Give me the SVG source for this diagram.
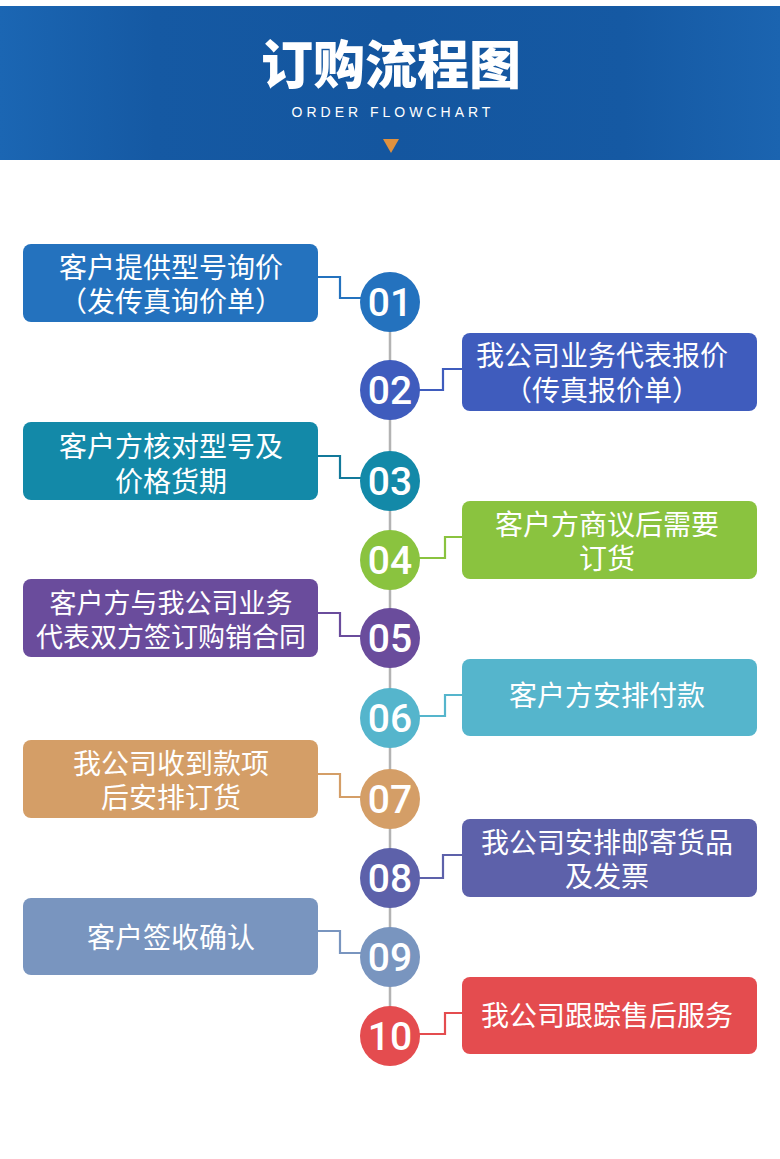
<svg xmlns="http://www.w3.org/2000/svg" width="780" height="1159" viewBox="0 0 780 1159">
<defs>
<linearGradient id="hdr" x1="0" y1="0" x2="1" y2="0">
<stop offset="0" stop-color="#1b66b3"/>
<stop offset="0.2" stop-color="#1559a3"/>
<stop offset="0.5" stop-color="#14569f"/>
<stop offset="0.8" stop-color="#1559a3"/>
<stop offset="1" stop-color="#1b64b0"/>
</linearGradient>
<style>
.box{stroke:none}
.t{font-family:"Liberation Sans","Noto Sans CJK SC",sans-serif;font-size:28px;fill:#ffffff;text-anchor:middle}
.n{font-family:Roboto,"Liberation Sans",sans-serif;font-size:39px;font-weight:500;fill:#ffffff;text-anchor:middle}
.c{fill:none;stroke-width:2.2}
</style>
</defs>
<rect width="780" height="1159" fill="#ffffff"/>
<g id="header">
<rect x="0" y="6" width="780" height="154" fill="url(#hdr)"/>
<text x="391" y="84" font-family="'Noto Sans CJK SC',sans-serif" font-size="52" font-weight="900" fill="#ffffff" text-anchor="middle">订购流程图</text>
<text x="393" y="117" font-family="'Liberation Sans',Arial,sans-serif" font-size="14" letter-spacing="4" fill="#ffffff" text-anchor="middle">ORDER FLOWCHART</text>
<polygon points="383,139 399,139 391,153" fill="#e0913e"/>
</g>
<g id="connectors">
<line x1="390" y1="302" x2="390" y2="1036" stroke="#b3b3b3" stroke-width="2.5"/>
<polyline class="c" stroke="#2472be" points="318,277 340,277 340,298 362,298"/>
<polyline class="c" stroke="#3f5cbd" points="418,390 443,390 443,369 462,369"/>
<polyline class="c" stroke="#13799a" points="318,456 340,456 340,478 362,478"/>
<polyline class="c" stroke="#8ac33f" points="418,558 445,558 445,537 462,537"/>
<polyline class="c" stroke="#6a4c9c" points="318,613 340,613 340,636 362,636"/>
<polyline class="c" stroke="#55b5cc" points="418,716 445,716 445,695 462,695"/>
<polyline class="c" stroke="#d49e67" points="318,774 340,774 340,797 362,797"/>
<polyline class="c" stroke="#5d61aa" points="418,878 443,878 443,855 462,855"/>
<polyline class="c" stroke="#7995bf" points="318,931 340,931 340,953 362,953"/>
<polyline class="c" stroke="#e44c4f" points="418,1034 445,1034 445,1013 462,1013"/>
</g>
<g id="node1">
<rect class="box" x="23" y="244" width="295" height="78" rx="8" fill="#2472be"/>
<text class="t" x="171" y="278">客户提供型号询价</text>
<text class="t" x="171" y="312">（发传真询价单）</text>
<circle cx="390" cy="302" r="30" fill="#2472be"/>
<text class="n" x="390" y="316">01</text>
</g>
<g id="node2">
<rect class="box" x="462" y="333" width="295" height="78" rx="8" fill="#3f5cbd"/>
<text class="t" x="602" y="366">我公司业务代表报价</text>
<text class="t" x="602" y="401">（传真报价单）</text>
<circle cx="390" cy="390" r="30" fill="#3f5cbd"/>
<text class="n" x="390" y="404">02</text>
</g>
<g id="node3">
<rect class="box" x="23" y="422" width="295" height="78" rx="8" fill="#1389a8"/>
<text class="t" x="171" y="457">客户方核对型号及</text>
<text class="t" x="171" y="492">价格货期</text>
<circle cx="390" cy="481" r="30" fill="#1389a8"/>
<text class="n" x="390" y="495">03</text>
</g>
<g id="node4">
<rect class="box" x="462" y="501" width="295" height="78" rx="8" fill="#8ac33f"/>
<text class="t" x="607" y="535">客户方商议后需要</text>
<text class="t" x="607" y="569">订货</text>
<circle cx="390" cy="560" r="30" fill="#8ac33f"/>
<text class="n" x="390" y="574">04</text>
</g>
<g id="node5">
<rect class="box" x="23" y="579" width="295" height="78" rx="8" fill="#6a4c9c"/>
<text class="t" x="171" y="613" style="font-size:27px">客户方与我公司业务</text>
<text class="t" x="171" y="647" style="font-size:27px">代表双方签订购销合同</text>
<circle cx="390" cy="638" r="30" fill="#6a4c9c"/>
<text class="n" x="390" y="652">05</text>
</g>
<g id="node6">
<rect class="box" x="462" y="659" width="295" height="77" rx="8" fill="#55b5cc"/>
<text class="t" x="607" y="706">客户方安排付款</text>
<circle cx="390" cy="718" r="30" fill="#55b5cc"/>
<text class="n" x="390" y="732">06</text>
</g>
<g id="node7">
<rect class="box" x="23" y="740" width="295" height="78" rx="8" fill="#d49e67"/>
<text class="t" x="171" y="774">我公司收到款项</text>
<text class="t" x="171" y="808">后安排订货</text>
<circle cx="390" cy="799" r="30" fill="#d49e67"/>
<text class="n" x="390" y="813">07</text>
</g>
<g id="node8">
<rect class="box" x="462" y="819" width="295" height="78" rx="8" fill="#5d61aa"/>
<text class="t" x="607" y="853">我公司安排邮寄货品</text>
<text class="t" x="607" y="887">及发票</text>
<circle cx="390" cy="878" r="30" fill="#5d61aa"/>
<text class="n" x="390" y="892">08</text>
</g>
<g id="node9">
<rect class="box" x="23" y="898" width="295" height="77" rx="8" fill="#7995bf"/>
<text class="t" x="171" y="948">客户签收确认</text>
<circle cx="390" cy="957" r="30" fill="#7995bf"/>
<text class="n" x="390" y="971">09</text>
</g>
<g id="node10">
<rect class="box" x="462" y="977" width="295" height="77" rx="8" fill="#e44c4f"/>
<text class="t" x="607" y="1026">我公司跟踪售后服务</text>
<circle cx="390" cy="1036" r="30" fill="#e44c4f"/>
<text class="n" x="390" y="1050">10</text>
</g>
</svg>
